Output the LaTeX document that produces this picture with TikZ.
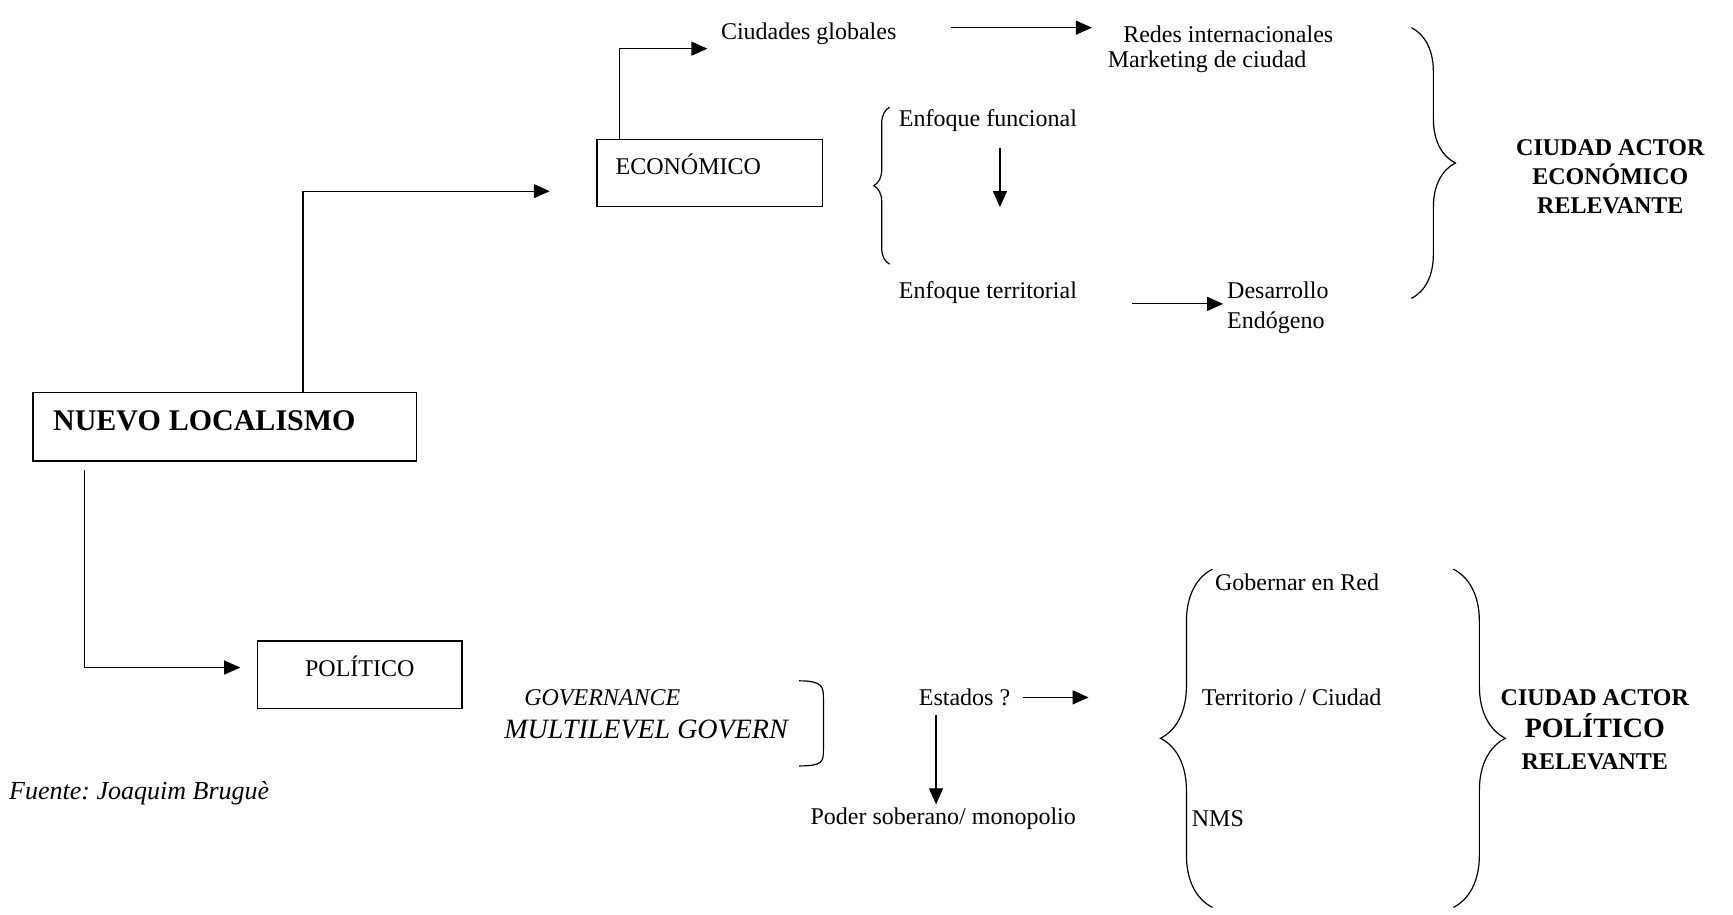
\documentclass[tikz,border=0pt]{standalone}
\usepackage{fontspec}
\setmainfont{Liberation Serif}
\usetikzlibrary{positioning,arrows.meta,decorations.pathreplacing}
\frenchspacing

\tikzset{
  caja/.style={draw, line width=0.7pt, inner xsep=0pt, text height=8pt, text depth=6pt},
  txt/.style={anchor=west, inner sep=0pt},
  flecha/.style={-{Triangle[length=8pt,width=7pt]}, line width=0.6pt},
  llave/.style={decorate, decoration={brace, amplitude=#1}, line width=0.6pt},
}

\begin{document}
\begin{tikzpicture}[x=0.5526pt, y=-0.5526pt, font=\fontsize{12}{14}\selectfont]
\useasboundingbox (0,0) rectangle (1568,827);

% cajas
\node[caja, minimum width=191.8pt, minimum height=34.3pt, text width=171.8pt, align=left, text height=10pt] (nl) at (203.5,386) {\fontsize{15}{17}\selectfont\bfseries NUEVO LOCALISMO};
\node[caja, minimum width=112.7pt, minimum height=33.7pt, text width=93.9pt, align=left] (eco) at (642,156.5) {ECONÓMICO};
\node[caja, minimum width=102.2pt, minimum height=33.7pt, align=center] (pol) at (325.5,610.5) {POLÍTICO};

% rama economica
\node[txt] (cg) at (652,31) {Ciudades globales};
\node[txt] (redes) at (1016,31) {Redes internacionales};
\node[txt] (mkt) at (1002,56) {Marketing de ciudad};
\node[txt] (ef) at (813,109) {Enfoque funcional};
\node[txt] (et) at (813,265) {Enfoque territorial};
\node[txt, align=left, font=\fontsize{12}{15}\selectfont] (des) at (1110,278.5) {Desarrollo\\Endógeno};
\node[align=center, font=\fontsize{12}{14.6}\selectfont\bfseries] (cae) at (1457,160) {CIUDAD ACTOR\\ECONÓMICO\\RELEVANTE};

% rama politica
\node[txt, font=\fontsize{12}{14}\selectfont\itshape] (gov) at (474,631) {GOVERNANCE};
\node[txt, font=\fontsize{14}{16}\selectfont\itshape] (mlg) at (456,660) {MULTILEVEL GOVERN};
\node[txt, font=\fontsize{13}{15}\selectfont\itshape] (fte) at (8,718) {Fuente: Joaquim Bruguè};
\node[txt] (est) at (831,631) {Estados ?};
\node[txt] (pod) at (733,741) {Poder soberano/ monopolio};
\node[txt] (gob) at (1099,527) {Gobernar en Red};
\node[txt] (ter) at (1087,631) {Territorio / Ciudad};
\node[txt] (nms) at (1078,741) {NMS};
\node[align=center, font=\fontsize{12}{16}\selectfont\bfseries] (cap) at (1443,660) {CIUDAD ACTOR\\{\fontsize{14}{16}\selectfont POLÍTICO}\\RELEVANTE};

% flechas
\draw[flecha] ([xshift=39pt]nl.north) |- ([xshift=-23.2pt,yshift=-9.1pt]eco.west);
\draw[flecha] ([xshift=11.6pt]eco.north west) |- ([xshift=-6.6pt,yshift=-7.2pt]cg.west);
\draw[flecha] ([xshift=27pt,yshift=3.3pt]cg.east) -- ([xshift=-15.5pt,yshift=3.3pt]redes.west);
\draw[flecha] ([xshift=6pt,yshift=-8.3pt]ef.south) -- ++(0,-29.3pt);
\draw[flecha] ([xshift=27.6pt,yshift=-5.5pt]et.east) -- ++(45.3pt,0);
\draw[flecha] ([xshift=26pt,yshift=-4.4pt]nl.south west) |- ([xshift=-8.3pt,yshift=3.6pt]pol.west);
\draw[flecha] ([xshift=6pt]est.east) -- ++(33pt,0);
\draw[flecha] ([xshift=8.8pt,yshift=-4.2pt]est.south west) -- ++(0,-44.8pt);

% llaves
\draw[llave=8pt] (805,239) -- (805,97);
\draw[llave=22pt] (1277,25) -- (1277,270);
\draw[llave=26pt] (1097,821) -- (1097,515);
\draw[llave=26pt] (1315,515) -- (1315,821);
\draw[line width=0.6pt] (723,616) .. controls (745,616) and (745,622) .. (745,632) -- (745,678) .. controls (745,689) and (745,693) .. (723,693);

\end{tikzpicture}
\end{document}
